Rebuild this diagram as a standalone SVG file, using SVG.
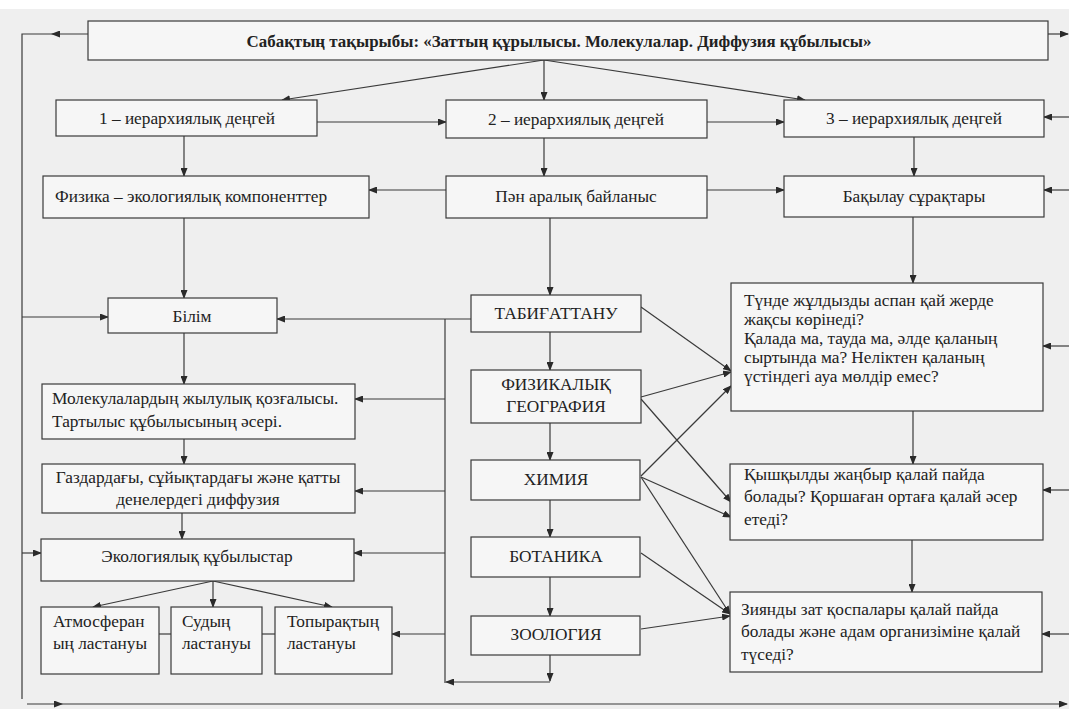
<svg xmlns="http://www.w3.org/2000/svg" width="1069" height="709" viewBox="0 0 1069 709">
<defs>
<marker id="ah" markerUnits="userSpaceOnUse" markerWidth="9" markerHeight="7" refX="8" refY="3.5" orient="auto">
<path d="M0,0 L9,3.5 L0,7 z" fill="#2a2a2a"/>
</marker>
</defs>
<style>
.bx{fill:#f6f6f6;stroke:#3a3a3a;stroke-width:1.2}
.t{font-family:"Liberation Serif","DejaVu Serif",serif;font-size:17.3px;fill:#222}
.c{text-anchor:middle}
.b{font-weight:bold;font-size:16.9px}
.ln{fill:none;stroke:#3a3a3a;stroke-width:1.2}
.ar{fill:none;stroke:#3a3a3a;stroke-width:1.2;marker-end:url(#ah)}
</style>
<rect x="0" y="0" width="1069" height="709" fill="#ffffff"/>
<rect x="0" y="9" width="1069" height="700" fill="#efefef"/>

<g id="connectors">
<path class="ar" d="M88,34 H52"/>
<path class="ln" d="M52,34 H22 V699"/>
<path class="ar" d="M22,317 H108"/>
<path class="ar" d="M22,553 H41"/>
<path class="ar" d="M27,704 H62"/>
<path class="ar" d="M62,704 H1067"/>
<path class="ar" d="M1048,34 H1068"/>
<path class="ar" d="M1069,117 H1044"/>
<path class="ar" d="M1069,190 H1044"/>
<path class="ar" d="M1069,346 H1043"/>
<path class="ar" d="M1069,490 H1043"/>
<path class="ar" d="M1069,634 H1042"/>
<path class="ar" d="M544,60 L282,100"/>
<path class="ar" d="M544,60 V100"/>
<path class="ar" d="M544,60 L805,100"/>
<path class="ar" d="M317,122 H446"/>
<path class="ar" d="M707,122 H784"/>
<path class="ar" d="M184,136 V176"/>
<path class="ar" d="M544,138 V176"/>
<path class="ar" d="M914,137 V176"/>
<path class="ar" d="M446,190 H369"/>
<path class="ar" d="M707,190 H784"/>
<path class="ar" d="M184,218 V298"/>
<path class="ar" d="M550,218 V295"/>
<path class="ar" d="M913,217 V283"/>
<path class="ar" d="M471,319 H277"/>
<path class="ln" d="M445,319 V683"/>
<path class="ar" d="M445,399 H355"/>
<path class="ar" d="M445,491 H355"/>
<path class="ar" d="M445,553 H354"/>
<path class="ar" d="M445,634 H392"/>
<path class="ar" d="M184,333 V384"/>
<path class="ar" d="M184,439 V464"/>
<path class="ar" d="M182,513 V539"/>
<path class="ar" d="M213,581 L93,607"/>
<path class="ar" d="M213,581 V607"/>
<path class="ar" d="M213,581 L332,607"/>
<path class="ln" d="M159,634 H171"/>
<path class="ln" d="M262,634 H275"/>
<path class="ar" d="M550,332 V370"/>
<path class="ar" d="M550,423 V460"/>
<path class="ar" d="M550,500 V537"/>
<path class="ar" d="M550,577 V616"/>
<path class="ar" d="M550,655 V681"/>
<path class="ar" d="M550,682 H446"/>
<path class="ar" d="M641,307 L731,371"/>
<path class="ar" d="M641,397 L731,372"/>
<path class="ar" d="M641,476 L731,386"/>
<path class="ar" d="M641,399 L731,502"/>
<path class="ar" d="M641,477 L731,517"/>
<path class="ar" d="M641,477 L730,614"/>
<path class="ar" d="M641,553 L730,614"/>
<path class="ar" d="M641,629 L730,616"/>
<path class="ar" d="M995,342 V403"/>
<path class="ar" d="M913,411 V464"/>
<path class="ar" d="M912,540 V592"/>
</g>

<g id="title"><rect class="bx" x="88" y="21" width="960" height="39"/>
<text class="t b c" x="559" y="47">Сабақтың тақырыбы: «Заттың құрылысы. Молекулалар. Диффузия құбылысы»</text></g>
<g id="level1"><rect class="bx" x="56" y="100" width="261" height="36"/>
<text class="t c" x="187" y="124">1 – иерархиялық деңгей</text></g>
<g id="level2"><rect class="bx" x="446" y="100" width="261" height="38"/>
<text class="t c" x="576" y="125">2 – иерархиялық деңгей</text></g>
<g id="level3"><rect class="bx" x="784" y="100" width="260" height="37"/>
<text class="t c" x="914" y="124">3 – иерархиялық деңгей</text></g>
<g id="fizika"><rect class="bx" x="43" y="176" width="326" height="42"/>
<text class="t" x="55" y="202">Физика – экологиялық компоненттер</text></g>
<g id="pan"><rect class="bx" x="446" y="176" width="261" height="42"/>
<text class="t c" x="576" y="202">Пән аралық байланыс</text></g>
<g id="bakylau"><rect class="bx" x="784" y="176" width="260" height="41"/>
<text class="t c" x="914" y="202">Бақылау сұрақтары</text></g>
<g id="bilim"><rect class="bx" x="108" y="298" width="169" height="35"/>
<text class="t c" x="192" y="322">Білім</text></g>
<g id="tabigattanu"><rect class="bx" x="471" y="295" width="170" height="37"/>
<text class="t c" x="556" y="319">ТАБИҒАТТАНУ</text></g>
<g id="tunde"><rect class="bx" x="731" y="283" width="312" height="128"/>
<text class="t" x="744" y="306">Түнде жұлдызды аспан қай жерде</text>
<text class="t" x="744" y="325">жақсы көрінеді?</text>
<text class="t" x="744" y="344">Қалада ма, тауда ма, әлде қаланың</text>
<text class="t" x="744" y="363">сыртында ма? Неліктен қаланың</text>
<text class="t" x="744" y="382">үстіндегі ауа мөлдір емес?</text></g>
<g id="fizgeo"><rect class="bx" x="471" y="370" width="170" height="53"/>
<text class="t c" x="556" y="390">ФИЗИКАЛЫҚ</text>
<text class="t c" x="556" y="412">ГЕОГРАФИЯ</text></g>
<g id="molekula"><rect class="bx" x="42" y="384" width="313" height="55"/>
<text class="t" x="52" y="404">Молекулалардың жылулық қозғалысы.</text>
<text class="t" x="52" y="427">Тартылыс құбылысының әсері.</text></g>
<g id="gaz"><rect class="bx" x="42" y="464" width="313" height="49"/>
<text class="t c" x="198" y="483">Газдардағы, сұйықтардағы және қатты</text>
<text class="t c" x="198" y="505">денелердегі диффузия</text></g>
<g id="himiya"><rect class="bx" x="471" y="460" width="169" height="40"/>
<text class="t c" x="556" y="485">ХИМИЯ</text></g>
<g id="kyshkyl"><rect class="bx" x="730" y="464" width="313" height="76"/>
<text class="t" x="744" y="480">Қышқылды жаңбыр қалай пайда</text>
<text class="t" x="744" y="502">болады?  Қоршаған ортаға қалай әсер</text>
<text class="t" x="744" y="525">етеді?</text></g>
<g id="ekolog"><rect class="bx" x="41" y="539" width="313" height="42"/>
<text class="t c" x="197" y="562">Экологиялық құбылыстар</text></g>
<g id="botanika"><rect class="bx" x="471" y="537" width="169" height="40"/>
<text class="t c" x="556" y="562">БОТАНИКА</text></g>
<g id="atmos"><rect class="bx" x="41" y="607" width="118" height="67"/>
<text class="t" x="53" y="627">Атмосферан</text>
<text class="t" x="53" y="649">ың ластануы</text></g>
<g id="sudyn"><rect class="bx" x="171" y="607" width="91" height="67"/>
<text class="t" x="182" y="627">Судың</text>
<text class="t" x="182" y="649">ластануы</text></g>
<g id="topyrak"><rect class="bx" x="275" y="607" width="117" height="67"/>
<text class="t" x="287" y="627">Топырақтың</text>
<text class="t" x="287" y="649">ластануы</text></g>
<g id="zoologiya"><rect class="bx" x="471" y="616" width="169" height="39"/>
<text class="t c" x="556" y="640">ЗООЛОГИЯ</text></g>
<g id="ziyandy"><rect class="bx" x="730" y="592" width="312" height="80"/>
<text class="t" x="741" y="615">Зиянды зат қоспалары қалай пайда</text>
<text class="t" x="741" y="637">болады және адам организіміне қалай</text>
<text class="t" x="741" y="660">түседі?</text></g>
</svg>
